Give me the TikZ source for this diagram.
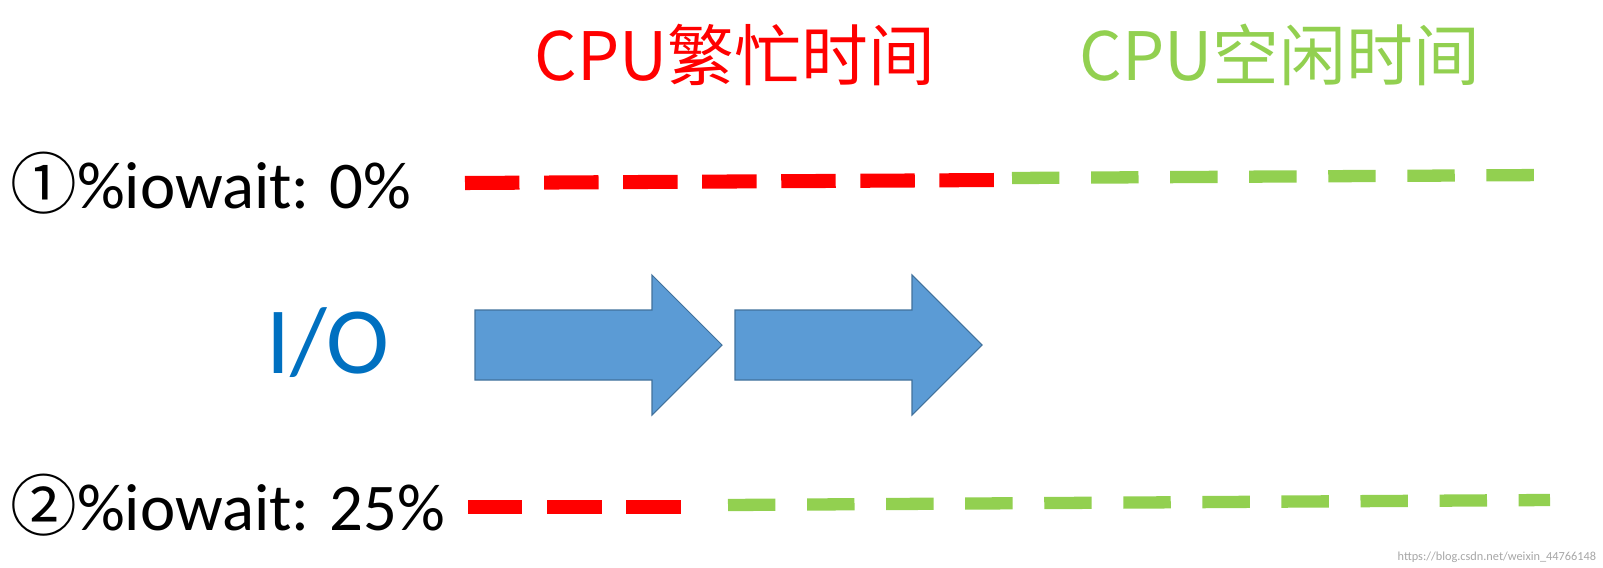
\documentclass[tikz,border=0pt]{standalone}
\usepackage{fontspec}
\setmainfont{Carlito}
\newfontfamily\cjk{Noto Sans CJK SC}
\definecolor{busyred}{HTML}{FF0000}
\definecolor{idlegreen}{HTML}{92D050}
\definecolor{iofill}{HTML}{5B9BD5}
\definecolor{ioline}{HTML}{41719C}
\definecolor{ioblue}{HTML}{0070C0}

\tikzset{
  busy/.style={busyred,line width=8pt,dash pattern=on 31pt off 14pt},
  idle/.style={idlegreen,line width=7pt,dash pattern=on 27pt off 18pt},
  iolabel/.style={anchor=west,inner sep=0pt,font=\fontsize{38}{42}\selectfont},
  title/.style={inner sep=0pt,font=\cjk\fontsize{38}{42}\selectfont}
}

\begin{document}
\begin{tikzpicture}[x=0.02cm,y=-0.02cm]
  \useasboundingbox (0,0) rectangle (1603,568);
  % titles
  \node[title,text=busyred] (busy) at (735,55) {CPU繁忙时间};
  \node[title,text=idlegreen] (idle) at (1280,55) {CPU空闲时间};
  % case 1
  \node[iolabel] (case1) at (10,183) {{\cjk ①}\%iowait: 0\%};
  \coordinate (r1a) at (465,183);
  \coordinate (r1b) at (998,180);
  \coordinate (g1a) at (1012,178);
  \coordinate (g1b) at (1548,175);
  \draw[busy] (r1a) -- (r1b);
  \draw[idle] (g1a) -- (g1b);
  % I/O
  \node[inner sep=0pt,text=ioblue,font=\fontsize{54}{58}\selectfont] (io) at (328,343) {I/O};
  \foreach \x in {475,735} {
    \draw[fill=iofill,draw=ioline,line width=0.6pt]
      (\x,310) -- ++(177,0) -- ++(0,-35) -- ++(70,70) -- ++(-70,70) -- ++(0,-35) -- ++(-177,0) -- cycle;
  }
  % case 2
  \node[iolabel] (case2) at (10,505) {{\cjk ②}\%iowait: 25\%};
  \coordinate (r2a) at (468,507);
  \coordinate (r2b) at (690,507);
  \coordinate (g2a) at (728,505);
  \coordinate (g2b) at (1550,500);
  \draw[busy] (r2a) -- (r2b);
  \draw[idle] (g2a) -- (g2b);
  % watermark
  \node[anchor=south east,inner sep=2pt,text=gray!70,font=\fontsize{7}{8}\selectfont] (mark) at (1600,566) {https://blog.csdn.net/weixin\_44766148};
\end{tikzpicture}
\end{document}
